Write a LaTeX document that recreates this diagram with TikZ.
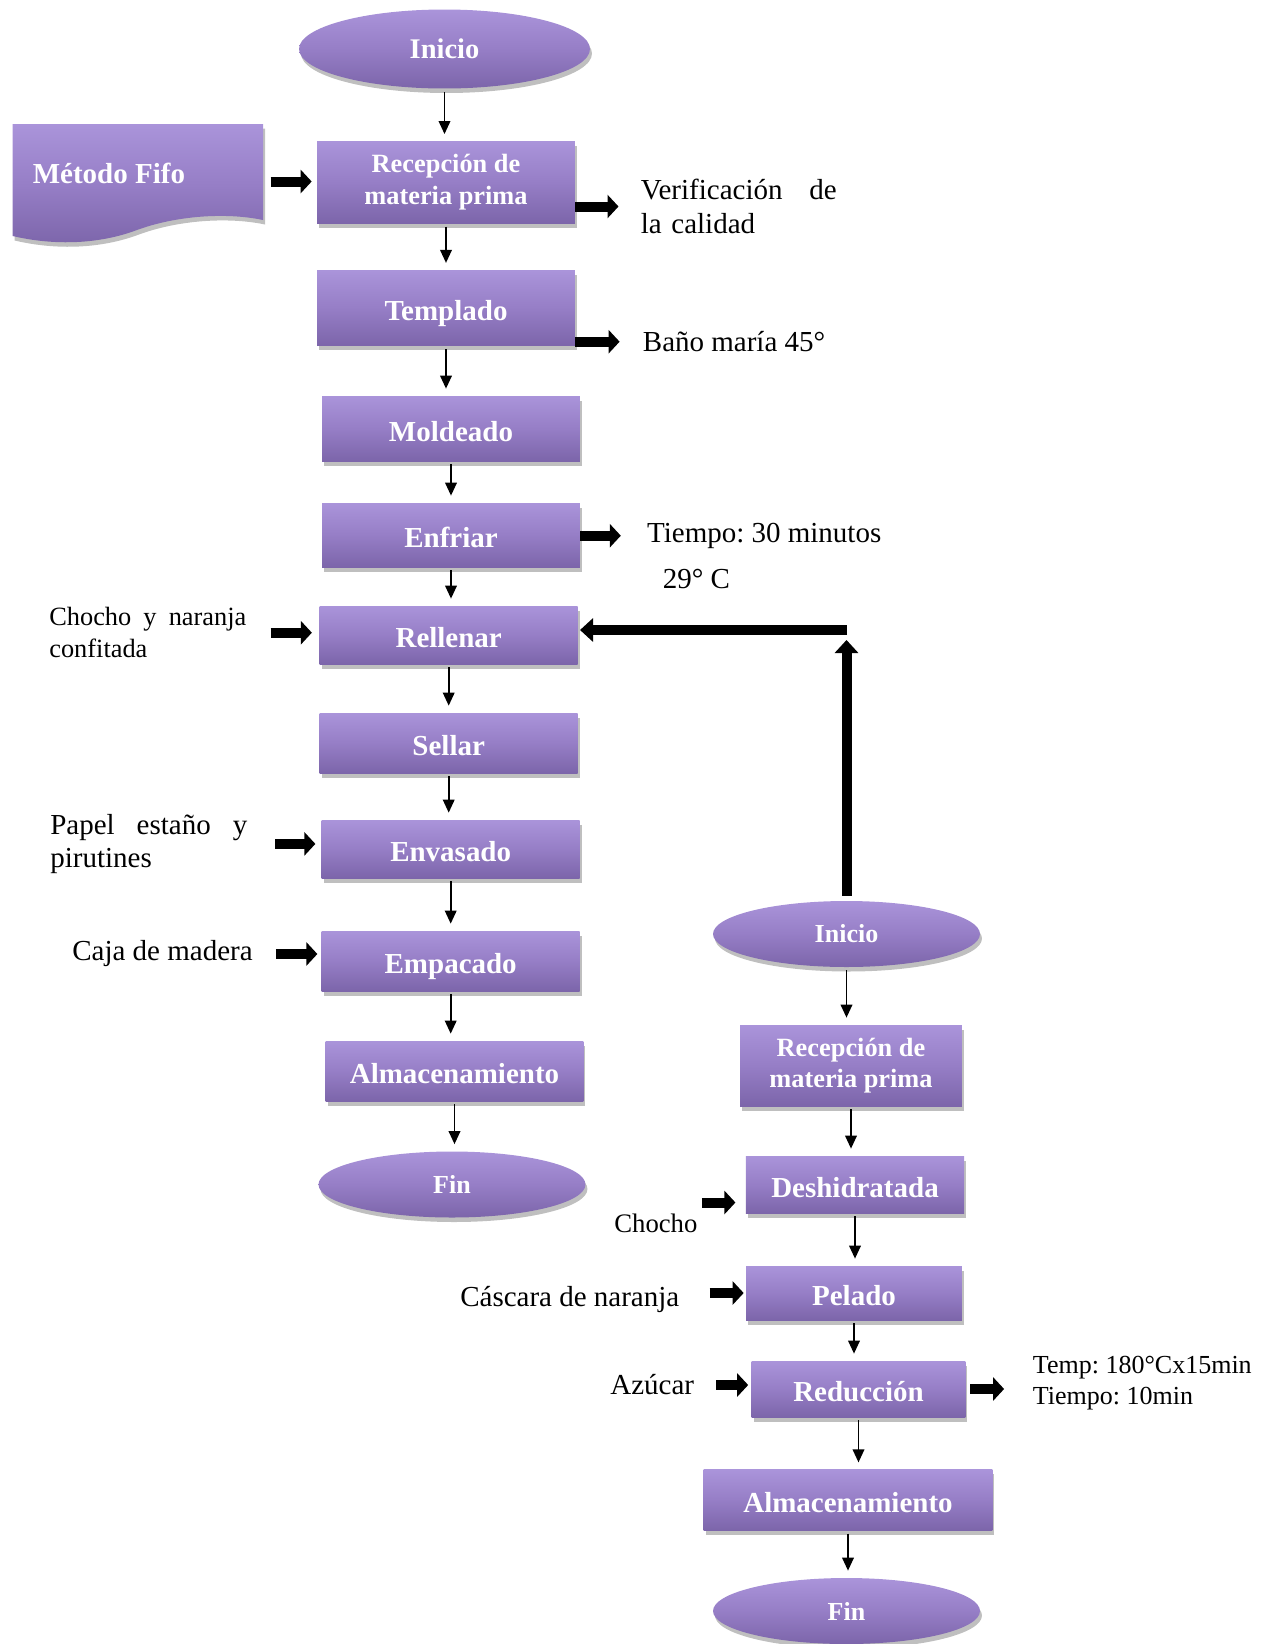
\documentclass[tikz,border=0pt]{standalone}
\usepackage{fontspec}
\setmainfont{Liberation Serif}
\frenchspacing
\usetikzlibrary{positioning,arrows.meta,shapes.geometric,shadows,calc}
\definecolor{lilaTop}{RGB}{170,148,218}
\definecolor{lilaMid}{RGB}{150,126,198}
\definecolor{lilaBot}{RGB}{124,101,170}

\begin{document}
\begin{tikzpicture}[
    x=0.02cm, y=-0.02cm,
    lila/.style={top color=lilaTop, bottom color=lilaBot, middle color=lilaMid,
                 drop shadow={shadow xshift=0.04cm, shadow yshift=-0.09cm, opacity=0.25, fill=black}},
    proc/.style={lila, rectangle, text=white, align=center, inner sep=2pt,
                 minimum width=5.16cm, minimum height=1.2cm,
                 text height=14.5pt, text depth=0pt,
                 font=\bfseries\fontsize{16.5}{18}\selectfont},
    term/.style={lila, ellipse, text=white, inner sep=0pt,
                 minimum width=5.34cm, minimum height=1.32cm,
                 font=\bfseries\fontsize{14.8}{17}\selectfont},
    lbl/.style={anchor=west, inner sep=0pt, align=left,
                font=\fontsize{16.5}{19}\selectfont},
    arr/.style={-{Triangle[length=2.6mm,width=2.3mm]}, line width=1.1pt,
                shorten <=0.06cm, shorten >=0.14cm},
    blk/.style={-{Triangle[length=2.2mm,width=4.6mm]}, line width=2mm},
    fb/.style ={-{Triangle[length=2.6mm,width=4.6mm]}, line width=2mm}
  ]
    \useasboundingbox (0,0) rectangle (1280,1644);

    % main line
    \node[term, minimum width=5.82cm, minimum height=1.58cm,
          font=\bfseries\fontsize{16.2}{18}\selectfont] (ini) at (444.5,49) {Inicio};
    \node[proc, minimum height=1.64cm, text height=, text depth=,
          font=\bfseries\fontsize{15}{18}\selectfont]
          (rec) at (446,182.4) {Recepción de\\materia prima};
    \node[proc, minimum height=1.51cm] (tem) at (446,308)   {Templado};
    \node[proc, minimum height=1.30cm] (mol) at (451,428.5) {Moldeado};
    \node[proc, minimum height=1.28cm] (enf) at (451,535)   {Enfriar};
    \node[proc, minimum height=1.16cm] (rel) at (448.7,635) {Rellenar};
    \node[proc, minimum height=1.20cm] (sel) at (448.7,743) {Sellar};
    \node[proc, minimum height=1.16cm] (env) at (450.7,849) {Envasado};
    \node[proc, minimum height=1.20cm] (emp) at (450.7,961) {Empacado};
    \node[proc, minimum height=1.20cm] (alm) at (454.5,1071) {Almacenamiento};
    \node[term] (fin) at (452,1184.5) {Fin};

    % fifo document
    \path[lila] (12.6,124) -- (263,124) -- (263,220)
        .. controls (225,212) and (175,216) .. (137,230)
        .. controls (100,244) and (55,246) .. (12.6,236) -- cycle;
    \node[minimum width=5.01cm, minimum height=2.3cm, inner sep=0pt] (fifo) at (138,181.5) {};
    \node[anchor=west, inner sep=0pt, text=white,
          font=\bfseries\fontsize{16.5}{18}\selectfont] (fifot) at (32.5,173) {Método Fifo};

    % second line
    \node[term] (ini2) at (846.5,934) {Inicio};
    \node[proc, minimum width=4.44cm, minimum height=1.62cm, text height=, text depth=,
          font=\bfseries\fontsize{15}{18}\selectfont]
          (rec2) at (851,1065.5) {Recepción de\\materia prima};
    \node[proc, minimum width=4.37cm, minimum height=1.14cm] (des) at (855,1184.5) {Deshidratada};
    \node[proc, minimum width=4.32cm, minimum height=1.08cm] (pel) at (854,1293)  {Pelado};
    \node[proc, minimum width=4.28cm, minimum height=1.12cm] (red) at (858.5,1389) {Reducción};
    \node[proc, minimum width=5.78cm, minimum height=1.21cm] (alm2) at (848,1500) {Almacenamiento};
    \node[term] (fin2) at (846.5,1611) {Fin};

    % side texts
    \node[lbl, text width=3.92cm] (ver) at (640.5,206.5) {Verificación\hfill de\\la calidad};
    \node[lbl] (ban)  at (642.6,341.7) {Baño maría 45°};
    \node[lbl] (tie)  at (646.8,535.7) {Tiempo: 30 minutos};
    \node[lbl] (tie2) at (662.5,578.7) {29° C};
    \node[lbl, text width=3.94cm, font=\fontsize{15}{18.4}\selectfont]
          (cho) at (49,632.7) {Chocho\hfill y\hfill naranja\\confitada};
    \node[lbl, text width=3.94cm] (pap) at (50,843.9) {Papel\hfill estaño\hfill y\\pirutines};
    \node[lbl] (caj)  at (72,954)    {Caja de madera};
    \node[lbl, font=\fontsize{15.2}{18}\selectfont] (cho2) at (614,1223) {Chocho};
    \node[lbl] (cas)  at (460,1299)  {Cáscara de naranja};
    \node[lbl] (azu)  at (610,1385)  {Azúcar};
    \node[lbl, font=\fontsize{14.8}{17.6}\selectfont] (tmp) at (1032.6,1383.5)
          {Temp: 180°Cx15min\\Tiempo: 10min};

    % flow arrows
    \foreach \a/\b in {ini/rec, rec/tem, tem/mol, mol/enf, enf/rel, rel/sel,
                       sel/env, env/emp, emp/alm, alm/fin}
        \draw[arr] (\a.south) -- (\a.south |- \b.north);
    \foreach \a/\b in {ini2/rec2, rec2/des, des/pel, pel/red, red/alm2, alm2/fin2}
        \draw[arr] (\a.south) -- (\a.south |- \b.north);

    % inputs and outputs
    \draw[blk, shorten <=0.14cm, shorten >=0.1cm] (fifo.east) -- (fifo.east -| rec.west);
    \draw[blk, shorten >=0.44cm] (ver.west -| rec.east) -- (ver.west);
    \draw[blk, shorten >=0.46cm] (ban.west -| tem.east) -- (ban.west);
    \draw[blk, shorten >=0.52cm] (tie.west -| enf.east) -- (tie.west);
    \draw[blk, shorten <=0.48cm, shorten >=0.15cm] (cho.east) -- (cho.east -| rel.west);
    \draw[blk, shorten <=0.55cm, shorten >=0.12cm] (pap.east) -- (pap.east -| env.west);
    \draw[blk, shorten <=0.46cm, shorten >=0.08cm] (caj.east) -- (caj.east -| emp.west);
    \coordinate (desIn) at ($(des.west)+(0,18)$);
    \draw[blk, shorten <=0.08cm, shorten >=0.2cm] (desIn -| cho2.east) -- (desIn);
    \draw[blk, shorten <=0.6cm, shorten >=0.04cm] (pel.west -| cas.east) -- (pel.west);
    \draw[blk, shorten <=0.44cm, shorten >=0.06cm] (azu.east) -- (azu.east -| red.west);
    \draw[blk, shorten <=0.09cm, shorten >=0.57cm] (red.east) -- (red.east -| tmp.west);

    % feedback to rellenar
    \coordinate (fbk) at (847,630);
    \draw[fb, shorten <=0.1cm, shorten >=0.2cm] (ini2.north) -- (ini2.north |- fbk);
    \draw[fb, shorten >=0.04cm] (fbk) -- (fbk -| rel.east);
  \end{tikzpicture}
\end{document}
